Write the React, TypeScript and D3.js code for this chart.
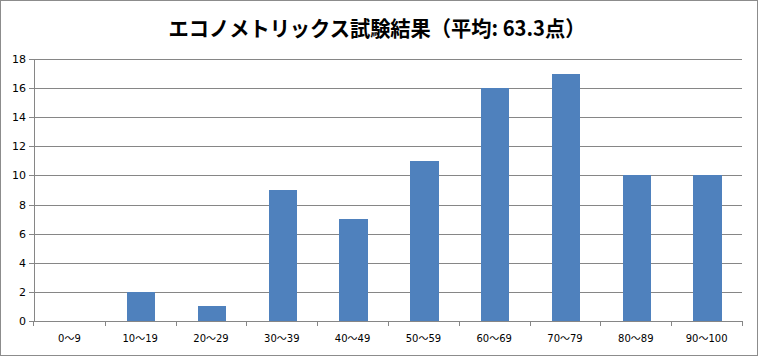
import React from "react";
import * as d3 from "d3";

const categories = ["0～9", "10～19", "20～29", "30～39", "40～49", "50～59", "60～69", "70～79", "80～89", "90～100"];
const counts = [0, 2, 1, 9, 7, 11, 16, 17, 10, 10];
const yTicks = [0, 2, 4, 6, 8, 10, 12, 14, 16, 18];
const title = "エコノメトリックス試験結果（平均: 63.3点）";

export default function App() {
  const W = 758, H = 357;
  const left = 34, right = 742, top = 59, bottom = 321;
  const x = d3.scaleBand<string>().domain(categories).range([left + 1, right + 1]).paddingInner(0.6).paddingOuter(0.3);
  const xb = d3.scaleBand<string>().domain(categories).range([left, right]);
  const y = d3.scaleLinear().domain([0, 18]).range([bottom, top]);
  const grid = "#868686";
  const font = "Tahoma, 'DejaVu Sans', 'Noto Sans CJK JP', sans-serif";
  return (
    <svg width={W} height={H} style={{ position: "absolute", left: 0, top: 0, background: "#fff" }}>
      <rect x={0.5} y={0.5} width={W - 1} height={H - 2} fill="#fff" stroke="#8c8c8c" />
      <text x={377} y={36} textAnchor="middle" fontSize={21} fontWeight="bold" fontFamily="'Noto Sans CJK JP', sans-serif" textLength={417} lengthAdjust="spacingAndGlyphs">{title}</text>
      {yTicks.map((t) => (
        <g key={t}>
          <line x1={left} x2={right} y1={Math.round(y(t)) + 0.5} y2={Math.round(y(t)) + 0.5} stroke={grid} />
          <line x1={left - 5} x2={left} y1={Math.round(y(t)) + 0.5} y2={Math.round(y(t)) + 0.5} stroke={grid} />
          <text x={26} y={y(t) + 4} textAnchor="end" fontSize={11} fontFamily={font} fill="#000">{t}</text>
        </g>
      ))}
      <line x1={left + 0.5} x2={left + 0.5} y1={top} y2={bottom} stroke={grid} />
      {categories.map((c, i) => {
        const x0 = Math.round(x(c)!);
        const x1 = Math.round(x(c)! + x.bandwidth());
        const y0 = Math.round(y(counts[i]));
        return (
          <g key={c}>
            <rect x={x0} y={y0} width={x1 - x0} height={bottom - y0} fill="#4F81BD" />
            <line x1={Math.round(xb(c)! + xb.bandwidth()) + 0.5} x2={Math.round(xb(c)! + xb.bandwidth()) + 0.5} y1={bottom} y2={bottom + 5} stroke={grid} />
            <text x={xb(c)! + xb.bandwidth() / 2} y={342} textAnchor="middle" fontSize={10} fontFamily={font} fill="#000">{c}</text>
          </g>
        );
      })}
      <line x1={left - 0.5} x2={left - 0.5} y1={bottom} y2={bottom + 5} stroke={grid} />
    </svg>
  );
}
